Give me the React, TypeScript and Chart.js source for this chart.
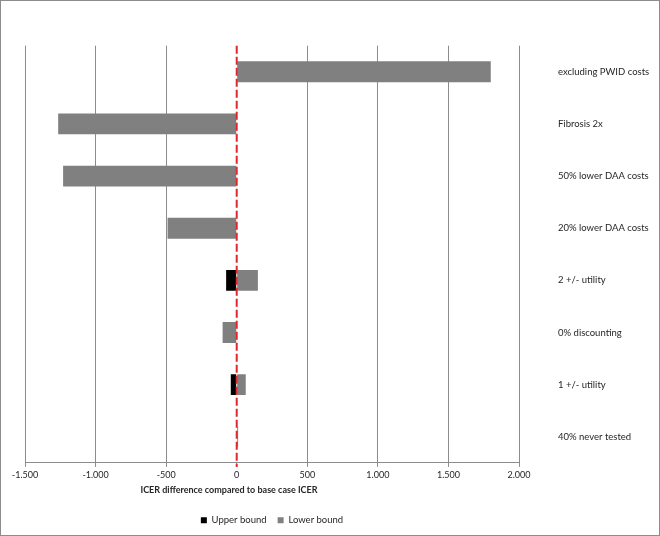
import React, { useEffect, useRef } from "react";
import { Chart, registerables } from "chart.js";

Chart.register(...registerables);

const categories = [
  "excluding PWID costs",
  "Fibrosis 2x",
  "50% lower DAA costs",
  "20% lower DAA costs",
  "2 +/- utility",
  "0% discounting",
  "1 +/- utility",
  "40% never tested",
];
const upperBound = [0, 0, 0, 0, -75, 0, -42, 0];
const lowerBound = [1800, -1265, -1230, -490, 150, -100, 64, 10];
const xMin = -1500;
const xMax = 2000;
const xStep = 500;
const xTitle = "ICER difference compared to base case ICER";

const FONT = "Lato, 'Open Sans', sans-serif";
const TEXT = "#262626";
const GRID = "#8c8c8c";

function fmt(v: number): string {
  const neg = v < 0;
  const s = Math.abs(Math.round(v)).toString();
  const withSep = s.replace(/\B(?=(\d{3})+(?!\d))/g, ".");
  return (neg ? "-" : "") + withSep;
}

const zeroLine = {
  id: "zeroLine",
  afterDatasetsDraw(chart: any) {
    const x = chart.scales.x.getPixelForValue(0);
    const { top, bottom } = chart.chartArea;
    const ctx = chart.ctx;
    ctx.save();
    ctx.strokeStyle = "#e2262e";
    ctx.lineWidth = 2;
    ctx.setLineDash([8, 3]);
    ctx.beginPath();
    ctx.moveTo(x, top);
    ctx.lineTo(x, bottom + 4);
    ctx.stroke();
    ctx.restore();
  },
};

const axisTitle = {
  id: "axisTitle",
  afterDraw(chart: any) {
    const ctx = chart.ctx;
    const { left } = chart.chartArea;
    ctx.save();
    ctx.font = `bold 9px ${FONT}`;
    ctx.fillStyle = TEXT;
    ctx.textAlign = "center";
    ctx.textBaseline = "middle";
    ctx.fillText(xTitle, left + 204, 489);
    ctx.restore();
  },
};

export default function App() {
  const ref = useRef<HTMLCanvasElement>(null);
  useEffect(() => {
    document.body.style.margin = "0";
    if (!ref.current) return;
    const chart = new Chart(ref.current, {
      type: "bar",
      data: {
        labels: categories,
        datasets: [
          {
            label: "Upper bound",
            data: upperBound,
            backgroundColor: "#000000",
            grouped: false,
            barPercentage: 0.4,
            categoryPercentage: 1,
          },
          {
            label: "Lower bound",
            data: lowerBound,
            backgroundColor: "#808080",
            grouped: false,
            barPercentage: 0.4,
            categoryPercentage: 1,
          },
        ],
      },
      options: {
        indexAxis: "y",
        animation: false,
        responsive: false,
        layout: { padding: { left: 24, top: 43, right: 0, bottom: 0 } },
        scales: {
          x: {
            type: "linear",
            min: xMin,
            max: xMax,
            ticks: {
              stepSize: xStep,
              padding: 3,
              color: TEXT,
              font: { family: FONT, size: 9 },
              callback: (v: any) => fmt(Number(v)),
            },
            grid: {
              color: (c: any) => (c.tick && c.tick.value === 0 ? "rgba(0,0,0,0)" : GRID),
              tickColor: GRID,
              tickLength: 4,
            },
            border: { color: GRID },
            title: {
              display: true,
              text: " ",
              color: "rgba(0,0,0,0)",
              font: { family: FONT, size: 9 },
              padding: { top: 4, bottom: 6 },
            },
          },
          y: {
            position: "right",
            grid: { display: false, drawTicks: false },
            border: { display: false },
            ticks: {
              padding: 39,
              color: TEXT,
              font: { family: FONT, size: 9.5 },
            },
            afterFit: (s: any) => {
              s.width = 140;
            },
          },
        },
        plugins: {
          legend: {
            position: "bottom",
            fullSize: false,
            labels: {
              boxWidth: 6,
              boxHeight: 6,
              padding: 11,
              color: TEXT,
              font: { family: FONT, size: 9.5 },
            },
          },
          tooltip: { enabled: false },
        },
      } as any,
      plugins: [zeroLine, axisTitle],
    });
    return () => chart.destroy();
  }, []);
  return (
    <div
      style={{
        width: 660,
        height: 536,
        border: "1px solid #8c8c8c",
        boxSizing: "border-box",
        background: "#fff",
      }}
    >
      <canvas ref={ref} width={658} height={534} />
    </div>
  );
}
